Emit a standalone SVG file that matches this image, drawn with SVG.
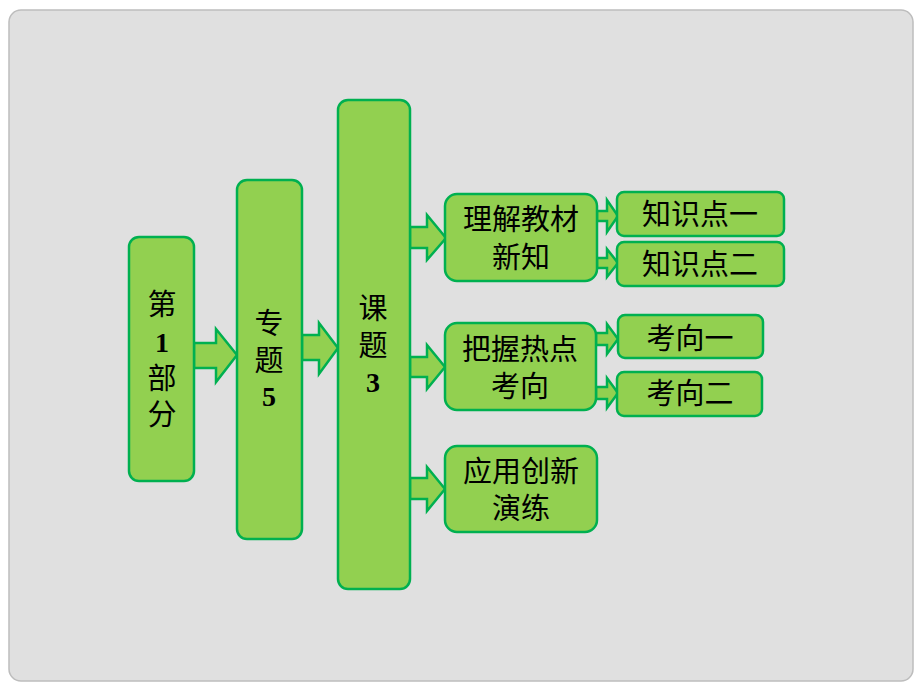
<svg xmlns="http://www.w3.org/2000/svg" width="920" height="690" viewBox="0 0 920 690">
<style>
.box{fill:#92d050;stroke:#00b050;stroke-width:2.5}
.arr{fill:#92d050;stroke:#00b050;stroke-width:2.5;stroke-linejoin:miter}
.t{font-family:"Noto Sans CJK SC","Noto Sans",sans-serif;font-size:29px;fill:#000;text-anchor:middle}
.d{font-family:"Liberation Serif","Times New Roman",serif;font-size:28px;font-weight:bold;fill:#000;text-anchor:middle}
</style>
<rect x="0" y="0" width="920" height="690" fill="#ffffff"/>
<rect x="9" y="10" width="904" height="671" rx="12" fill="#e0e0e0" stroke="#bdbdbd" stroke-width="1.5"/>
<g id="connectors">
<polygon class="arr" points="194,343 216,343 216,329 237,355 216,382 216,368 194,368"/>
<polygon class="arr" points="302,335 319,335 319,323 338,348 319,374 319,360 302,360"/>
<polygon class="arr" points="410,227 427,227 427,215 446,238 427,260 427,248 410,248"/>
<polygon class="arr" points="410,357 427,357 427,345 445,367 427,389 427,377 410,377"/>
<polygon class="arr" points="410,478 427,478 427,467 445,489 427,511 427,499 410,499"/>
<polygon class="arr" points="597,211 607,211 607,200 618,216 607,232 607,221 597,221"/>
<polygon class="arr" points="597,258 607,258 607,249 618,263 607,277 607,268 597,268"/>
<polygon class="arr" points="596,333 607,333 607,324 618,339 607,354 607,345 596,345"/>
<polygon class="arr" points="596,387 607,387 607,378 618,393 607,408 607,399 596,399"/>
</g>
<g id="n1">
<rect class="box" x="129" y="237" width="65" height="244" rx="10"/>
<text class="t" x="162" y="315">第</text>
<text class="d" x="162" y="352">1</text>
<text class="t" x="162" y="389">部</text>
<text class="t" x="162" y="425">分</text>
</g>
<g id="n2">
<rect class="box" x="237" y="180" width="65" height="359" rx="10"/>
<text class="t" x="269" y="334">专</text>
<text class="t" x="269" y="371">题</text>
<text class="d" x="269" y="406">5</text>
</g>
<g id="n3">
<rect class="box" x="338" y="100" width="72" height="489" rx="10"/>
<text class="t" x="373" y="319">课</text>
<text class="t" x="373" y="356">题</text>
<text class="d" x="373" y="392">3</text>
</g>
<g id="n4">
<rect class="box" x="445" y="194" width="152" height="87" rx="12"/>
<text class="t" x="521" y="230">理解教材</text>
<text class="t" x="521" y="268">新知</text>
</g>
<g id="n5">
<rect class="box" x="445" y="323" width="151" height="87" rx="12"/>
<text class="t" x="520" y="360">把握热点</text>
<text class="t" x="520" y="397">考向</text>
</g>
<g id="n6">
<rect class="box" x="445" y="446" width="152" height="86" rx="12"/>
<text class="t" x="521" y="482">应用创新</text>
<text class="t" x="521" y="519">演练</text>
</g>
<g id="n7">
<rect class="box" x="617" y="192" width="167" height="44" rx="7"/>
<text class="t" x="700" y="225">知识点一</text>
</g>
<g id="n8">
<rect class="box" x="617" y="242" width="167" height="44" rx="7"/>
<text class="t" x="700" y="275">知识点二</text>
</g>
<g id="n9">
<rect class="box" x="618" y="315" width="145" height="43" rx="7"/>
<text class="t" x="690" y="349">考向一</text>
</g>
<g id="n10">
<rect class="box" x="617" y="372" width="145" height="44" rx="7"/>
<text class="t" x="690" y="404">考向二</text>
</g>
</svg>
